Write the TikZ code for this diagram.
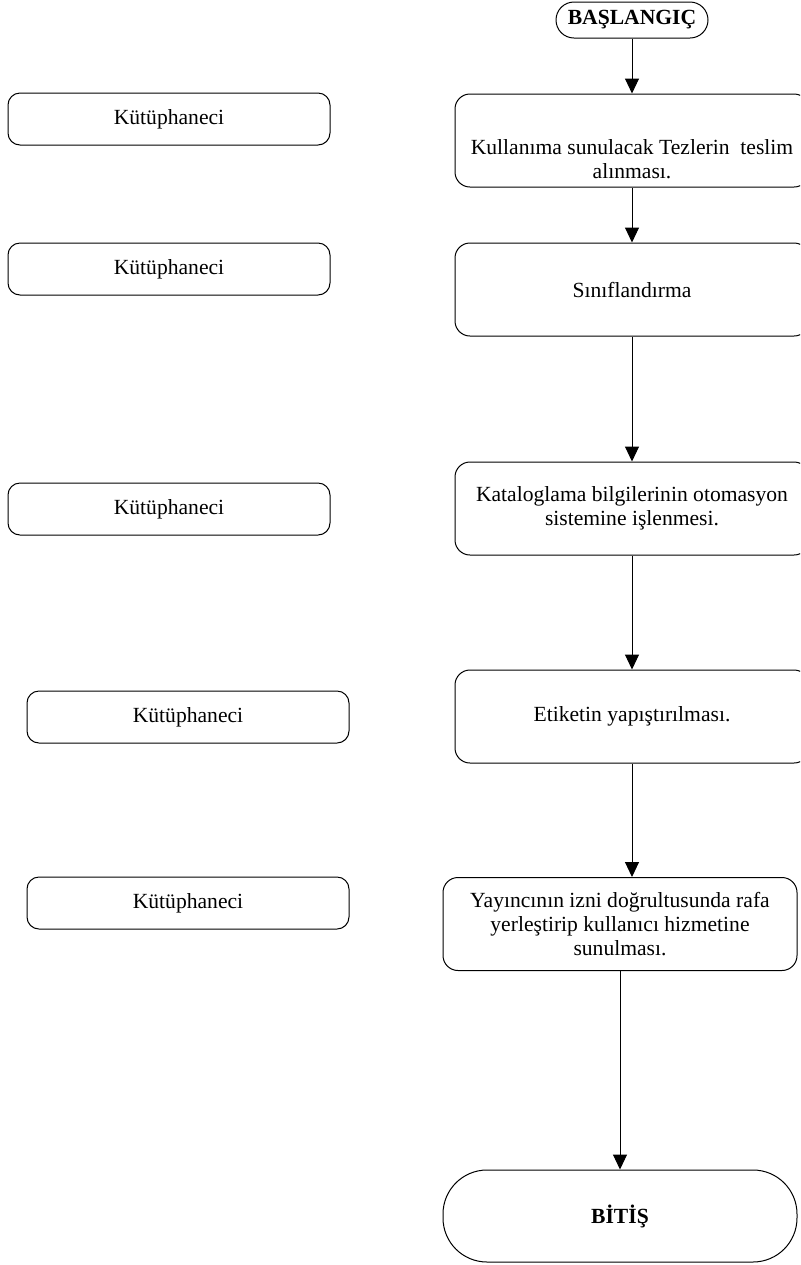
\documentclass[tikz,border=0pt]{standalone}
\usepackage{fontspec}
\setmainfont{Liberation Serif}
\usetikzlibrary{arrows.meta, positioning}

\begin{document}
\begin{tikzpicture}[x=0.5pt, y=-0.5pt,
  every node/.style={font=\fontsize{10.8}{12}\selectfont},
  isbox/.style={draw, line width=0.5pt, rounded corners=7.5pt, minimum width=177pt, minimum height=46.5pt, align=center, inner sep=2pt},
  rolebox/.style={draw, line width=0.5pt, rounded corners=6pt, minimum width=161pt, minimum height=26pt, inner sep=2pt},
  uc/.style={draw, line width=0.5pt, font=\fontsize{10.8}{12}\selectfont\bfseries, inner sep=2pt},
  flow/.style={draw, line width=0.5pt, -{Triangle[length=7.5pt, width=7pt]}}]
  \useasboundingbox (0,0) rectangle (800,1265);
  \clip (0,0) rectangle (800,1265);

  % akis adimlari
  \node[uc, rounded corners=9pt, minimum width=76pt, minimum height=18pt] (basla) at (632, 20) {BAŞLANGIÇ};
  \node[isbox] (teslim) at (632, 140.5) {\mbox{}\\[14pt]Kullanıma sunulacak Tezlerin~ teslim\\alınması.};
  \node[isbox] (sinif) at (632, 289.5) {Sınıflandırma};
  \node[isbox] (katalog) at (632, 508.5) {Kataloglama bilgilerinin otomasyon\\sistemine işlenmesi.};
  \node[isbox] (etiket) at (632, 716.5) {Etiketin yapıştırılması.};
  \node[isbox] (raf) at (620, 924) {Yayıncının izni doğrultusunda rafa\\yerleştirip kullanıcı hizmetine\\sunulması.};
  \node[uc, rounded corners=22pt, minimum width=177pt, minimum height=46pt] (bitis) at (620, 1216) {BİTİŞ};

  % sorumlular
  \node[rolebox] (kutup1) at (169, 119) {Kütüphaneci};
  \node[rolebox] (kutup2) at (169, 269) {Kütüphaneci};
  \node[rolebox] (kutup3) at (169, 509) {Kütüphaneci};
  \node[rolebox] (kutup4) at (188, 717) {Kütüphaneci};
  \node[rolebox] (kutup5) at (188, 903) {Kütüphaneci};

  % oklar
  \draw[flow] (basla) -- (teslim);
  \draw[flow] (teslim) -- (sinif);
  \draw[flow] (sinif) -- (katalog);
  \draw[flow] (katalog) -- (etiket);
  \draw[flow] (etiket) -- (etiket |- raf.north);
  \draw[flow] (raf) -- (bitis);
\end{tikzpicture}
\end{document}
